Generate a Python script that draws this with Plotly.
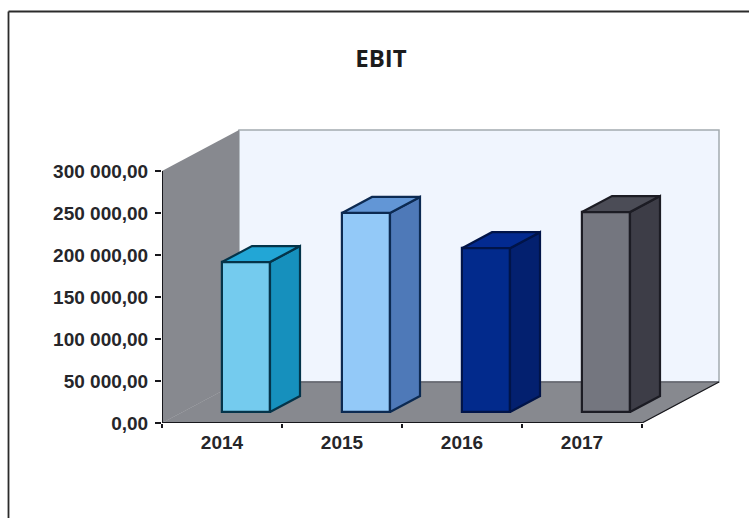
import plotly.graph_objects as go

years = ["2014", "2015", "2016", "2017"]
ebit = [178500, 237000, 195000, 238000]
y_ticks = [0, 50000, 100000, 150000, 200000, 250000, 300000]
y_tick_labels = ["0,00", "50 000,00", "100 000,00", "150 000,00", "200 000,00", "250 000,00", "300 000,00"]
front_colors = ["#74cbee", "#93c9f8", "#022a8c", "#74767f"]
side_colors = ["#1690bd", "#4e79b8", "#03206f", "#3d3d47"]
top_colors = ["#22a6d6", "#6296d6", "#032a90", "#4b4c56"]
edge_colors = ["#04344a", "#0c2a52", "#011448", "#1c1c24"]

W, H = 749, 518
L, R, T, B = 162, 722, 127, 423          # frame of the drawing area, px
CAT_PX = 120
Y_PER_PX = 300000 / 252
PX_X = 1 / CAT_PX

depth_x, depth_y = 77 * PX_X, 41 * Y_PER_PX     # full floor depth
base_x, base_y = 24 * PX_X, 11 * Y_PER_PX       # where the bars stand
bar_w = 48 * PX_X
bar_dx, bar_dy = 30 * PX_X, 16 * Y_PER_PX       # bar depth
n = len(years)
y_top = y_ticks[-1]
EDGE = 2.2

fig = go.Figure()

wall = "#87898f"
shapes = [
    dict(type="path", layer="below", xref="x", yref="y", fillcolor="#f0f5fe",
         line=dict(color="#a3abb0", width=1.5),
         path=f"M{depth_x},{depth_y} L{n+depth_x},{depth_y} L{n+depth_x},{y_top+depth_y} L{depth_x},{y_top+depth_y} Z"),
    dict(type="path", layer="below", xref="x", yref="y", fillcolor=wall, line=dict(width=0),
         path=f"M0,0 L{depth_x},{depth_y} L{depth_x},{y_top+depth_y} L0,{y_top} Z"),
    dict(type="path", layer="below", xref="x", yref="y", fillcolor=wall, line=dict(color=wall, width=0.5),
         path=f"M0,0 L{n},0 L{n+depth_x},{depth_y} L{depth_x},{depth_y} Z"),
    dict(type="line", layer="below", xref="x", yref="y", x0=depth_x, x1=n+depth_x, y0=depth_y, y1=depth_y,
         line=dict(color="#62646c", width=1.5)),
    dict(type="line", xref="x", yref="y", x0=0, x1=0, y0=0, y1=y_top, line=dict(color="#17171c", width=2)),
    dict(type="line", xref="x", yref="y", x0=0, x1=n, y0=0, y1=0, line=dict(color="#17171c", width=2)),
    dict(type="line", xref="x", yref="y", x0=n, x1=n+depth_x, y0=0, y1=depth_y, line=dict(color="#17171c", width=1.2)),
    # outer chart border: only top and left are inside the picture
    dict(type="line", xref="paper", yref="paper",
         x0=(8.5-L)/(R-L), x1=(W-L)/(R-L), y0=(B-11.5)/(B-T), y1=(B-11.5)/(B-T),
         line=dict(color="#2b2b2b", width=1.8)),
    dict(type="line", xref="paper", yref="paper",
         x0=(8.5-L)/(R-L), x1=(8.5-L)/(R-L), y0=(B-11.5)/(B-T), y1=(B-H)/(B-T),
         line=dict(color="#2b2b2b", width=1.8)),
]

xs = [i + 0.5 + base_x for i in range(n)]
fig.add_trace(go.Bar(x=xs, y=ebit, base=base_y, width=bar_w,
                     marker=dict(color=front_colors, line=dict(color=edge_colors, width=EDGE)),
                     showlegend=False))

for i, v in enumerate(ebit):
    x1 = xs[i] + bar_w / 2
    x0 = xs[i] - bar_w / 2
    b, t = base_y, base_y + v
    fig.add_trace(go.Scatter(
        x=[x1, x1 + bar_dx, x1 + bar_dx, x1, x1],
        y=[b, b + bar_dy, t + bar_dy, t, b],
        mode="lines", fill="toself", fillcolor=side_colors[i],
        line=dict(color=edge_colors[i], width=EDGE), showlegend=False))
    fig.add_trace(go.Scatter(
        x=[x0, x1, x1 + bar_dx, x0 + bar_dx, x0],
        y=[t, t, t + bar_dy, t + bar_dy, t],
        mode="lines", fill="toself", fillcolor=top_colors[i],
        line=dict(color=edge_colors[i], width=EDGE), showlegend=False))

tick_font = dict(family="Liberation Sans", size=19, color="#26262a", weight=700)
fig.update_layout(
    width=W, height=H,
    margin=dict(l=L, r=W - R, t=T, b=H - B, autoexpand=False),
    paper_bgcolor="white", plot_bgcolor="white",
    bargap=0, showlegend=False, shapes=shapes,
    title=dict(text="<b>EBIT</b>", x=381 / W, xanchor="center", xref="container",
               y=1 - 59 / H, yanchor="middle", yref="container",
               font=dict(family="Open Sans", size=24, color="#1c1c1c")),
    xaxis=dict(range=[0, (R - L) / CAT_PX], showgrid=False, zeroline=False, showline=False,
               tickmode="array", tickvals=[i + 0.5 for i in range(n)], ticktext=years,
               ticks="", tickfont=tick_font, ticklabelstandoff=6,
               minor=dict(tickmode="array", tickvals=list(range(n + 1)), ticks="outside",
                          ticklen=4, tickcolor="#17171c", tickwidth=1.5)),
    yaxis=dict(range=[0, (B - T) * Y_PER_PX], showgrid=False, zeroline=False, showline=False,
               tickmode="array", tickvals=y_ticks, ticktext=y_tick_labels, ticklabelstandoff=3,
               ticks="outside", ticklen=6, tickwidth=1.5, tickcolor="#17171c", tickfont=tick_font),
)

fig.write_html("out.html", config=dict(displayModeBar=False),
               post_script="document.body.style.margin='0';")
